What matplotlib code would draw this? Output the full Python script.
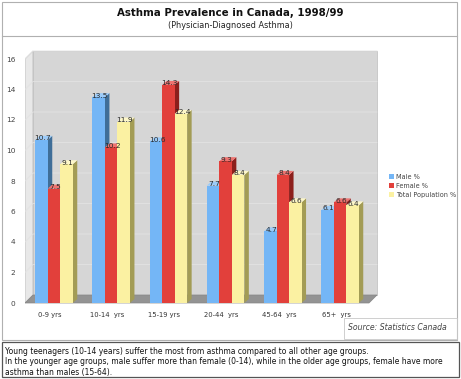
import matplotlib.pyplot as plt
from matplotlib.patches import Rectangle, Polygon, Patch
import numpy as np

# data
groups = ['0-9 yrs', '10-14  yrs', '15-19 yrs', '20-44  yrs', '45-64  yrs', '65+  yrs']
male = [10.7, 13.5, 10.6, 7.7, 4.7, 6.1]
female = [7.5, 10.2, 14.3, 9.3, 8.4, 6.6]
total = [9.1, 11.9, 12.4, 8.4, 6.6, 6.4]
series_names = ['Male %', 'Female %', 'Total Population %']
y_ticks = [0, 2, 4, 6, 8, 10, 12, 14, 16]

front_cols = ['#74b6f6', '#e2403b', '#fbf1a2']
side_cols = ['#3f6e98', '#8c1f1c', '#a39c55']
top_cols = ['#9ccbf8', '#ee7370', '#fdf7c9']

W, H = 461, 379
fig = plt.figure(figsize=(W / 100, H / 100), dpi=100)


def fx(px):
    return px / W


def fy(py):
    return 1 - py / H


# pixel layout of the plot region (x: group index, y: value)
x_px0, x_scale = 54.0, 57.2
y_px0, y_scale = 303.0, 15.25
ax_l, ax_r, ax_t, ax_b = 25, 380, 46, 308
ax = fig.add_axes([fx(ax_l), fy(ax_b), (ax_r - ax_l) / W, (ax_b - ax_t) / H])
ax.set_xlim((ax_l - x_px0) / x_scale, (ax_r - x_px0) / x_scale)
ax.set_ylim((y_px0 - ax_b) / y_scale, (y_px0 - ax_t) / y_scale)
for s in ax.spines.values():
    s.set_visible(False)
ax.patch.set_alpha(0)

# 3d wall / floor
dx, dy = 8 / x_scale, 8 / y_scale
x0 = (ax_l - x_px0) / x_scale
x1 = (369 - x_px0) / x_scale
ymax = 16
ax.add_patch(Polygon([(x0 + dx, dy), (x1 + dx, dy), (x1 + dx, ymax + dy), (x0 + dx, ymax + dy)],
                     closed=True, fc='#d6d6d6', ec='#c4c4c4', lw=0.6, zorder=0))
ax.add_patch(Polygon([(x0, 0), (x0 + dx, dy), (x0 + dx, ymax + dy), (x0, ymax)],
                     closed=True, fc='#e8e8e8', ec='#bdbdbd', lw=0.6, zorder=0))
ax.add_patch(Polygon([(x0, 0), (x1, 0), (x1 + dx, dy), (x0 + dx, dy)],
                     closed=True, fc='#939393', ec='#858585', lw=0.5, zorder=0.5))
for v in y_ticks[1:]:
    ax.plot([x0, x0 + dx, x1 + dx], [v, v + dy, v + dy], color='#e2e2e2', lw=0.6, zorder=0.2)

# bars
bw = 12.5 / x_scale
bdx, bdy = 4.5 / x_scale, 4 / y_scale
x = np.arange(len(groups))
for j, vals in enumerate([male, female, total]):
    xs = x + (j - 1) * bw
    ax.bar(xs, vals, width=bw, color=front_cols[j], zorder=2 + j * 0.1, lw=0)
    for xi, v in zip(xs, vals):
        l, r = xi - bw / 2, xi + bw / 2
        ax.add_patch(Polygon([(r, 0), (r + bdx, bdy), (r + bdx, v + bdy), (r, v)],
                             closed=True, fc=side_cols[j], ec='none', zorder=1.9 + j * 0.1))
        ax.add_patch(Polygon([(l, v), (r, v), (r + bdx, v + bdy), (l + bdx, v + bdy)],
                             closed=True, fc=top_cols[j], ec='none', zorder=1.9 + j * 0.1))
        ax.text(xi + 0.02, v - 0.1, f'{v}', ha='center', va='bottom', fontsize=5.3,
                color='#2a2a2a', zorder=5)

ax.set_yticks(y_ticks)
ax.set_yticklabels([str(t) for t in y_ticks], fontsize=5.3, color='#444444')
ax.set_xticks(x - 0.07)
ax.set_xticklabels(groups, fontsize=4.9, color='#333333')
ax.tick_params(axis='y', length=0, pad=7)
ax.tick_params(axis='x', length=0, pad=3)

handles = [Patch(fc=c, ec='none') for c in front_cols]
fig.legend(handles, series_names, loc='center left', bbox_to_anchor=(fx(386), fy(186)),
           frameon=False, fontsize=4.7, labelcolor='#444444', handlelength=0.8,
           handleheight=0.8, handletextpad=0.3, labelspacing=0.45, borderpad=0)

# frames
fig.patches.append(Rectangle((fx(2), fy(340)), fx(455), (340 - 2) / H, transform=fig.transFigure,
                             fill=False, ec='#b0b0b0', lw=0.8))
fig.add_artist(plt.Line2D([fx(2), fx(457)], [fy(36), fy(36)], transform=fig.transFigure,
                          color='#b0b0b0', lw=0.8))
fig.patches.append(Rectangle((fx(344), fy(339)), fx(113), 21 / H, transform=fig.transFigure,
                             fill=False, ec='#c8c8c8', lw=0.6))
fig.patches.append(Rectangle((fx(2), fy(377)), fx(457), 35 / H, transform=fig.transFigure,
                             fill=False, ec='#555555', lw=0.9))

fig.text(fx(230), fy(13), 'Asthma Prevalence in Canada, 1998/99', ha='center', va='center',
         fontsize=7.4, fontweight='bold', color='#111111')
fig.text(fx(230), fy(26), '(Physician-Diagnosed Asthma)', ha='center', va='center',
         fontsize=5.9, color='#222222')
fig.text(fx(348), fy(328), 'Source: Statistics Canada', ha='left', va='center',
         fontsize=5.6, style='italic', color='#444444')
fig.text(fx(5), fy(362),
         'Young teenagers (10-14 years) suffer the most from asthma compared to all other age groups.\n'
         'In the younger age groups, male suffer more than female (0-14), while in the older age groups, female have more\n'
         'asthma than males (15-64).',
         ha='left', va='center', fontsize=5.5, color='#111111', linespacing=1.2)

fig.savefig('out.png', dpi=100)
